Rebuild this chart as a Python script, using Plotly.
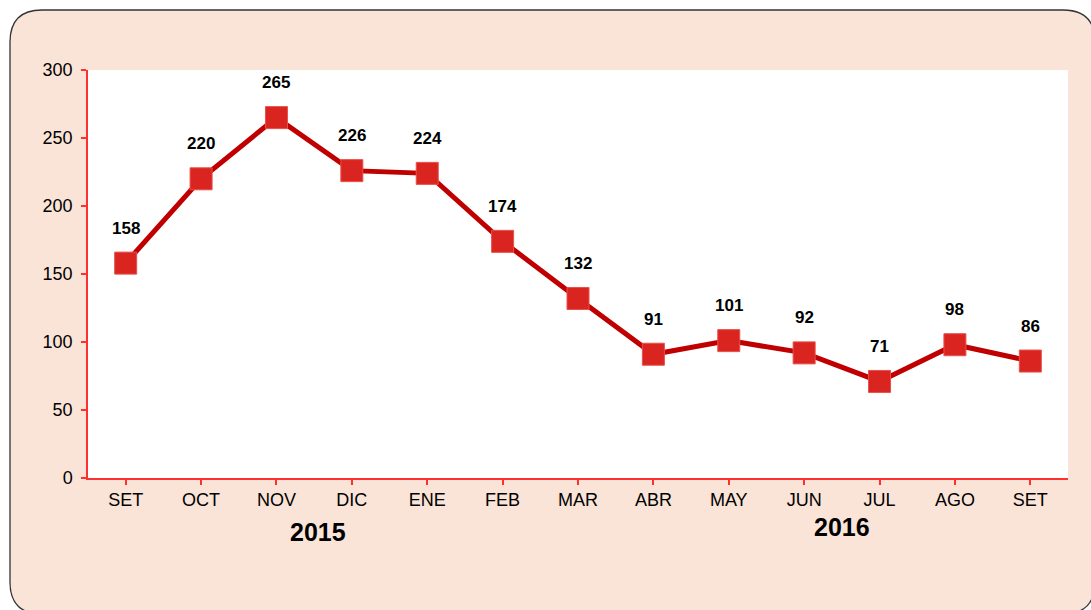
import plotly.graph_objects as go

months = ["SET", "OCT", "NOV", "DIC", "ENE", "FEB", "MAR", "ABR", "MAY", "JUN", "JUL", "AGO", "SET"]
values = [158, 220, 265, 226, 224, 174, 132, 91, 101, 92, 71, 98, 86]
years = ["2015", "2016"]

W, H = 1091, 610
L, R, T, B = 88, 1068, 70, 478

def px(x):
    return (x - L) / (R - L)

def py(y):
    return (B - y) / (B - T)

FONT = "Liberation Sans, Arial, sans-serif"
xs = list(range(len(months)))

fig = go.Figure()
fig.add_trace(go.Scatter(
    x=xs, y=values, mode="lines+markers",
    line=dict(color="#C00000", width=5),
    marker=dict(symbol="square", size=22, color="#DA2420",
                line=dict(color="#E8504A", width=1)),
    hoverinfo="skip", showlegend=False,
))

for i, v in enumerate(values):
    fig.add_annotation(x=i, y=v, text=str(v), showarrow=False, yshift=35,
                       font=dict(family=FONT, size=17, color="black", weight="bold"))

# year labels
fig.add_annotation(x=px(318), y=py(532), xref="paper", yref="paper", text=years[0],
                   xanchor="center", yanchor="middle",
                   showarrow=False, font=dict(family=FONT, size=25, color="black", weight="bold"))
fig.add_annotation(x=px(842), y=py(527), xref="paper", yref="paper", text=years[1],
                   xanchor="center", yanchor="middle",
                   showarrow=False, font=dict(family=FONT, size=25, color="black", weight="bold"))

# rounded background panel
x0, y0, x1, y1, r = 10, 10, 1095, 614, 32
path = (f"M {px(x0+r)},{py(y0)} L {px(x1-r)},{py(y0)} Q {px(x1)},{py(y0)} {px(x1)},{py(y0+r)} "
        f"L {px(x1)},{py(y1-r)} Q {px(x1)},{py(y1)} {px(x1-r)},{py(y1)} "
        f"L {px(x0+r)},{py(y1)} Q {px(x0)},{py(y1)} {px(x0)},{py(y1-r)} "
        f"L {px(x0)},{py(y0+r)} Q {px(x0)},{py(y0)} {px(x0+r)},{py(y0)} Z")
fig.add_shape(type="path", path=path, xref="paper", yref="paper", layer="below",
              fillcolor="#FAE4D7", line=dict(color="#333333", width=1.3))
fig.add_shape(type="rect", x0=0, x1=1, y0=0, y1=1, xref="paper", yref="paper", layer="below",
              fillcolor="white", line=dict(width=0))

fig.update_layout(
    width=W, height=H,
    margin=dict(l=L, r=W - R, t=T, b=H - B),
    paper_bgcolor="white", plot_bgcolor="rgba(0,0,0,0)",
    font=dict(family=FONT, size=18, color="black"),
    xaxis=dict(tickmode="array", tickvals=xs, ticktext=months, range=[-0.5, 12.5],
               showgrid=False, zeroline=False, showline=True, linecolor="#FF3030", linewidth=1.5,
               ticks="outside", tickson="boundaries", ticklen=5, tickcolor="#FF3030", tickwidth=1.5,
               tickfont=dict(size=18), fixedrange=True),
    yaxis=dict(range=[0, 300], dtick=50, showgrid=False, zeroline=False, showline=True,
               linecolor="#FF3030", linewidth=1.5, ticks="outside", ticklen=5,
               tickcolor="#FF3030", tickwidth=1.5, tickfont=dict(size=18), fixedrange=True,
               ticklabelstandoff=5),
)

fig.write_html("out.html", config={"displayModeBar": False},
               post_script="document.body.style.margin='0';document.body.style.overflow='hidden';")
